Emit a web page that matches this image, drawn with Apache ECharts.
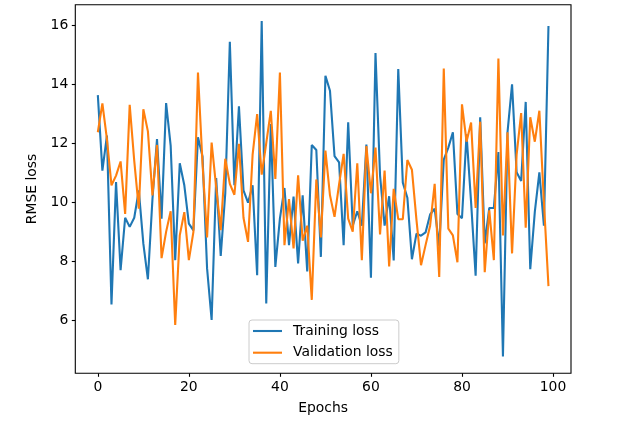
<!DOCTYPE html>
<html>
<head>
<meta charset="utf-8">
<script src="https://cdn.jsdelivr.net/npm/echarts@6/dist/echarts.min.js"></script>
<style>
html,body{margin:0;padding:0;background:#fff;}
#chart{width:632px;height:421px;}
</style>
</head>
<body>
<div id="chart"></div>
<script>
const seriesNames = ['Training loss', 'Validation loss'];
const xTicks = [0, 20, 40, 60, 80, 100];
const yTicks = [6, 8, 10, 12, 14, 16];
const trainingLoss = [
  13.63, 11.07, 12.26, 6.53, 10.68, 7.69, 9.47, 9.16, 9.47, 10.4,
  8.59, 7.38, 10.1, 12.14, 9.44, 13.36, 11.92, 8.03, 11.32, 10.57,
  9.27, 9.04, 12.2, 11.55, 7.75, 6.0, 10.82, 8.17, 10.3, 15.44,
  10.57, 13.25, 10.4, 9.98, 10.57, 7.52, 16.15, 6.56, 12.65, 7.8,
  9.44, 10.48, 8.54, 10.19, 7.92, 10.23, 7.65, 11.94, 11.77, 8.14,
  14.29, 13.78, 11.56, 11.35, 8.54, 12.71, 9.2, 9.69, 9.2, 11.95,
  7.43, 15.06, 10.9, 9.2, 10.2, 8.02, 14.52, 10.66, 10.15, 8.06,
  8.93, 8.86, 8.97, 9.58, 9.78, 8.5, 11.44, 11.85, 12.37, 9.6,
  9.45, 12.3, 10.0, 7.5, 12.88, 8.6, 9.8, 9.8, 11.7, 4.76,
  12.37, 14.0, 11.01, 10.72, 13.4, 7.72, 9.67, 11.01, 9.2, 15.98
];
const validationLoss = [
  12.37, 13.35, 12.14, 10.57, 10.9, 11.38, 9.6, 13.3, 11.4, 9.78,
  13.15, 12.4, 10.23, 11.94, 8.1, 8.99, 9.69, 5.83, 8.87, 9.66,
  8.03, 8.99, 14.4, 11.3, 8.8, 12.02, 10.5, 9.05, 11.47, 10.62,
  10.25, 11.98, 9.47, 8.65, 11.6, 12.99, 10.93, 12.0, 13.1, 10.79,
  14.4, 8.54, 10.1, 8.43, 10.91, 8.69, 9.2, 6.68, 10.77, 8.8,
  11.75, 10.23, 9.5, 10.6, 11.64, 9.44, 9.0, 11.32, 8.03, 11.9,
  10.3, 11.85, 8.9, 11.07, 7.82, 10.45, 9.42, 9.42, 11.43, 11.1,
  9.4, 7.86, 8.54, 9.2, 10.62, 7.46, 14.53, 9.1, 8.87, 7.96,
  13.32, 12.05, 12.7, 9.8, 12.73, 7.62, 9.72, 8.03, 14.87, 8.87,
  12.37, 8.26, 11.6, 13.02, 9.13, 12.88, 12.05, 13.1, 10.0, 7.15
];

const FONT = 'DejaVu Sans';
const toPairs = arr => arr.map((v, i) => [i, v]);
const LINE_ICON = 'path://M0,0 L29,0 L29,2.1 L0,2.1 Z';

const chart = echarts.init(document.getElementById('chart'), null, {renderer: 'canvas'});
chart.setOption({
  animation: false,
  backgroundColor: '#fff',
  textStyle: {fontFamily: FONT},
  grid: {
    left: 75.3, right: 61, top: 4.7, bottom: 47.7,
    show: true, borderColor: '#000', borderWidth: 1.1, backgroundColor: 'transparent'
  },
  legend: {
    orient: 'vertical',
    left: 249, top: 320,
    data: [
      {name: seriesNames[0], icon: LINE_ICON, itemStyle: {color: '#1f77b4'}},
      {name: seriesNames[1], icon: LINE_ICON, itemStyle: {color: '#ff7f0e'}}
    ],
    symbolKeepAspect: true,
    itemWidth: 29, itemHeight: 14, itemGap: 7.7,
    padding: [4, 6, 4, 4],
    backgroundColor: 'rgba(255,255,255,0.8)',
    borderColor: '#cccccc', borderWidth: 1, borderRadius: 3,
    textStyle: {fontFamily: FONT, fontSize: 13.9, color: '#000', padding: [0, 0, 0, 6]}
  },
  xAxis: {
    type: 'value',
    min: -4.95, max: 103.95,
    name: 'Epochs', nameLocation: 'middle', nameGap: 28,
    nameTextStyle: {fontFamily: FONT, fontSize: 13.9, color: '#000'},
    axisLine: {show: false, onZero: false},
    axisTick: {show: true, length: 3.5, lineStyle: {color: '#000', width: 1.1}, customValues: xTicks},
    axisLabel: {margin: 7, fontFamily: FONT, fontSize: 13.9, color: '#000', customValues: xTicks},
    splitLine: {show: false}
  },
  yAxis: {
    type: 'value',
    min: 4.19, max: 16.7,
    name: 'RMSE loss', nameLocation: 'middle', nameGap: 34, nameRotate: 90,
    nameTextStyle: {fontFamily: FONT, fontSize: 13.9, color: '#000'},
    axisLine: {show: false, onZero: false},
    axisTick: {show: true, length: 3.5, lineStyle: {color: '#000', width: 1.1}, customValues: yTicks},
    axisLabel: {margin: 7, fontFamily: FONT, fontSize: 13.9, color: '#000', customValues: yTicks},
    splitLine: {show: false}
  },
  series: [
    {
      name: seriesNames[0], type: 'line', data: toPairs(trainingLoss),
      symbol: 'none', lineStyle: {color: '#1f77b4', width: 2.1}, itemStyle: {color: '#1f77b4'}
    },
    {
      name: seriesNames[1], type: 'line', data: toPairs(validationLoss),
      symbol: 'none', lineStyle: {color: '#ff7f0e', width: 2.1}, itemStyle: {color: '#ff7f0e'}
    }
  ]
});
</script>
</body>
</html>
